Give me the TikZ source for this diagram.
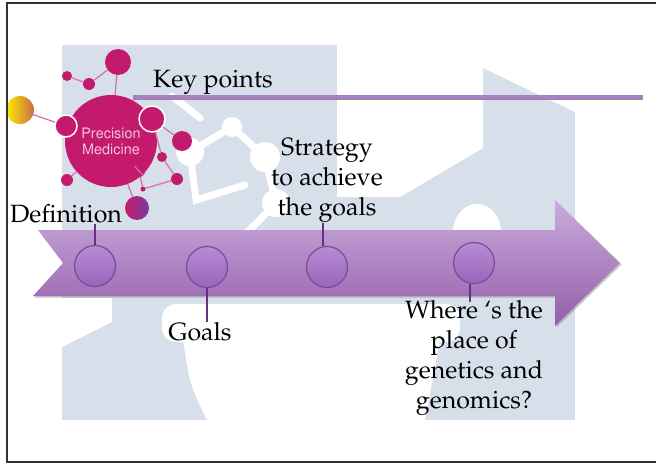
\documentclass[tikz,border=0pt]{standalone}
\usepackage[T1]{fontenc}
\usepackage{mathpazo}
\usepackage[scaled=0.9]{helvet}
\usetikzlibrary{shadows}

\definecolor{bgblue}{RGB}{215,224,234}
\definecolor{pmpink}{RGB}{196,26,110}
\definecolor{pmlink}{RGB}{215,112,160}
\definecolor{pmtext}{RGB}{242,196,220}
\definecolor{arrowtop}{RGB}{203,172,220}
\definecolor{arrowbot}{RGB}{148,94,170}
\definecolor{dottop}{RGB}{182,140,210}
\definecolor{dotbot}{RGB}{156,100,186}
\definecolor{dotline}{RGB}{118,76,148}
\definecolor{stemcol}{RGB}{104,48,126}
\definecolor{rulecol}{RGB}{170,126,198}

\begin{document}
\begin{tikzpicture}[
        x=1pt, y=-1pt,
        every node/.style={font=\fontsize{25}{30}\selectfont, align=center, inner sep=0pt},
        mol/.style={circle, fill=pmpink, inner sep=0pt},
        ring/.style={mol, draw=white, line width=1.5pt},
        link/.style={pmlink, line width=1.2pt},
        dot/.style={circle, minimum size=41pt, top color=dottop, bottom color=dotbot, draw=dotline, line width=1.2pt},
        stem/.style={stemcol, line width=2.8pt},
        wash/.style={fill=white},
        helix/.style={white, line width=7pt, line cap=round}
        ]
        \useasboundingbox (0,0) rectangle (656,466);

        % Faded backdrop
        \fill[bgblue] (62,45) rectangle (575,420);
        \fill[wash] (337,45) -- (575,45) -- (575,112) -- (483,68) -- (483,148) -- (400,197) -- (337,197) -- cycle;
        \fill[wash] (477,232) ellipse [x radius=24, y radius=28];
        \fill[wash, rounded corners=14pt] (162,304) rectangle (460,342);
        \fill[wash] (183,340) .. controls (190,385) .. (207,420) -- (425,420) .. controls (432,380) .. (440,340) -- cycle;
        \fill[wash] (62,298) -- (112,298) -- (112,322) -- (62,347) -- cycle;

        % Helix drawn into the backdrop
        \draw[helix] (190,152) -- (232,127) -- (265,157) -- (276,203) -- (240,240);
        \draw[helix] (190,152) -- (196,200) -- (245,185);
        \draw[helix] (172,96) -- (200,118);
        \fill[wash] (190,152) circle (14) (265,157) circle (15) (276,203) circle (14)
                    (232,127) circle (10) (200,240) circle (10);

        % Heading rule
        \coordinate (R0) at (133,97);
        \coordinate (R1) at (643,97);
        \draw[black!45, line width=1.5pt] ([yshift=-1.8pt]R0) -- ([yshift=-1.8pt]R1);
        \draw[rulecol, line width=3.2pt] (R0) -- (R1);
        \node[anchor=base] (KP) at (213,87) {Key points};

        % Timeline arrow
        \path[top color=arrowtop, bottom color=arrowbot,
              drop shadow={shadow xshift=1.5pt, shadow yshift=-1.5pt, opacity=0.45}]
            (38,230) -- (555,230) -- (555,200) -- (620,263) -- (555,326) -- (555,296)
            -- (33,296) -- (63,263) -- cycle;

        % Milestones
        \node[dot] (D1) at (95,266) {};
        \node[dot] (D2) at (207,267) {};
        \node[dot] (D3) at (327,267) {};
        \node[dot] (D4) at (474,263) {};

        \node[anchor=base] (Def) at (66,222) {Definition};
        \node[anchor=base] (Goals) at (200,340) {Goals};
        \node[anchor=north] (Strat) at (327,138) {Strategy\\to achieve\\the goals};
        \node[anchor=north] (Where) at (474,300) {Where `s the\\place of\\genetics and\\genomics?};

        \coordinate (S1) at (95,224);
        \coordinate (S2) at (207,322);
        \coordinate (S3) at (323,223);
        \coordinate (S4) at (470,302);
        \draw[stem] (S1) -- (S1 |- D1.north);
        \draw[stem] (S2) -- (S2 |- D2.south);
        \draw[stem] (S3) -- (S3 |- D3.north);
        \draw[stem] (S4) -- (S4 |- D4.south);

        % Precision medicine molecule
        \node[mol, minimum size=92pt, text=pmtext, font=\sffamily\fontsize{16}{16}\selectfont] (PM) at (111,141) {Precision\\Medicine};
        \node[mol, minimum size=26pt] (T1) at (118,62) {};
        \node[mol, minimum size=12pt] (T2) at (89,84) {};
        \node[mol, minimum size=10pt] (T3) at (67,76) {};
        \begin{scope}
            \clip (7,0) rectangle (656,466);
            \node[circle, minimum size=28pt, left color=yellow!85!orange, right color={rgb,255:red,200;green,110;blue,70}] (Y) at (20,110) {};
        \end{scope}
        \node[ring, minimum size=22pt] (RL) at (66,126) {};
        \node[ring, minimum size=26pt] (RR) at (152,119) {};
        \node[mol, minimum size=20pt] (C1) at (182,141) {};
        \node[mol, minimum size=10pt] (C2) at (162,157) {};
        \node[mol, minimum size=12pt] (C3) at (139,171) {};
        \node[mol, minimum size=12pt] (C4) at (177,179) {};
        \node[mol, minimum size=5pt] (C5) at (143,189) {};
        \node[mol, minimum size=12pt] (C6) at (67,180) {};
        \node[circle, minimum size=24pt, left color=pmpink, right color={rgb,255:red,120;green,60;blue,160}] (PB) at (137,208) {};

        \draw[link] (T3) -- (T2);
        \draw[link] (T2) -- (T1);
        \draw[link] (T1) -- (PM);
        \draw[link] (Y) -- (RL);
        \draw[link] (RR) -- (C1);
        \draw[link] (RR) -- (C2);
        \draw[link] (C2) -- (C4);
        \draw[link] (PM) -- (C3);
        \draw[link] (C3) -- (C5);
        \draw[link] (C5) -- (C4);
        \draw[link] (PM) -- (C6);
        \draw[link] (PM) -- (PB);

        % Slide frame
        \draw[black!80, line width=1.2pt] (656,3) -- (7,3) -- (7,462) -- (656,462);
\end{tikzpicture}
\end{document}
